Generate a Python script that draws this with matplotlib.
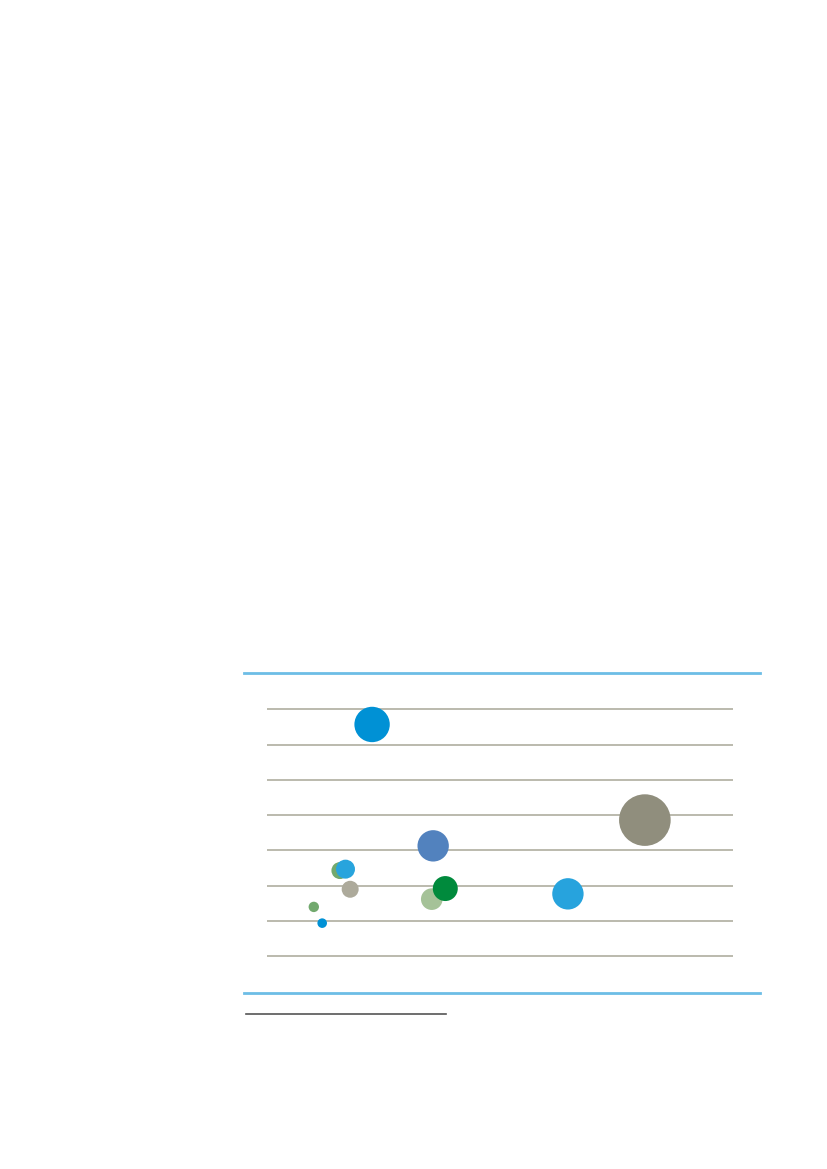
import matplotlib
matplotlib.use("Agg")
import matplotlib.pyplot as plt
from matplotlib.lines import Line2D

# bubble data (drawing order matters: back to front)
x_vals = [22.6, 35.7, 15.7, 16.9, 17.9, 10.1, 11.9, 35.4, 38.3, 81.1, 64.6]
y_vals = [6.57, 3.13, 2.43, 2.47, 1.90, 1.40, 0.94, 1.62, 1.92, 3.86, 1.77]
sizes = [313, 246, 72, 90, 72, 27, 23, 117, 156, 666, 246]
colors = ["#0091d5", "#5282be", "#72a96e", "#28a4dd", "#adaa9b", "#72a96e",
          "#0091d5", "#a5c298", "#008a3c", "#908e7d", "#27a3dd"]
grid_vals = [0, 1, 2, 3, 4, 5, 6, 7]

W, H = 827, 1169
fig = plt.figure(figsize=(W / 100, H / 100), dpi=100)

# axes placed so gridlines land where the reference has them
left, right = 266.7, 733
top_px, bot_px = 674.0, 991.6
ax = fig.add_axes([left / W, 1 - bot_px / H, (right - left) / W, (bot_px - top_px) / H])
ax.set_xlim(0, 100)
ax.set_ylim(-1, 8)
ax.set_yticks(grid_vals)
ax.set_xticks([])
ax.yaxis.grid(True, color="#a8a797", linewidth=1.1)
ax.set_axisbelow(True)
ax.tick_params(left=False, labelleft=False)
for s in ax.spines.values():
    s.set_visible(False)

k = 4 * 0.72 * 0.72  # radius^2 in px -> marker area in points^2
ax.scatter(x_vals, y_vals, s=[v * k for v in sizes], c=colors,
           edgecolors="none", zorder=3, clip_on=False)

# blue rules above and below the chart, short footnote rule
for yp in (673, 993):
    fig.add_artist(Line2D([244 / W, 760 / W], [1 - yp / H, 1 - yp / H],
                          color="#6dbde6", linewidth=2.0))
fig.add_artist(Line2D([246 / W, 446 / W], [1 - 1013.7 / H, 1 - 1013.7 / H],
                      color="#555555", linewidth=1.2))

fig.savefig("out.png", dpi=100, facecolor="white")
